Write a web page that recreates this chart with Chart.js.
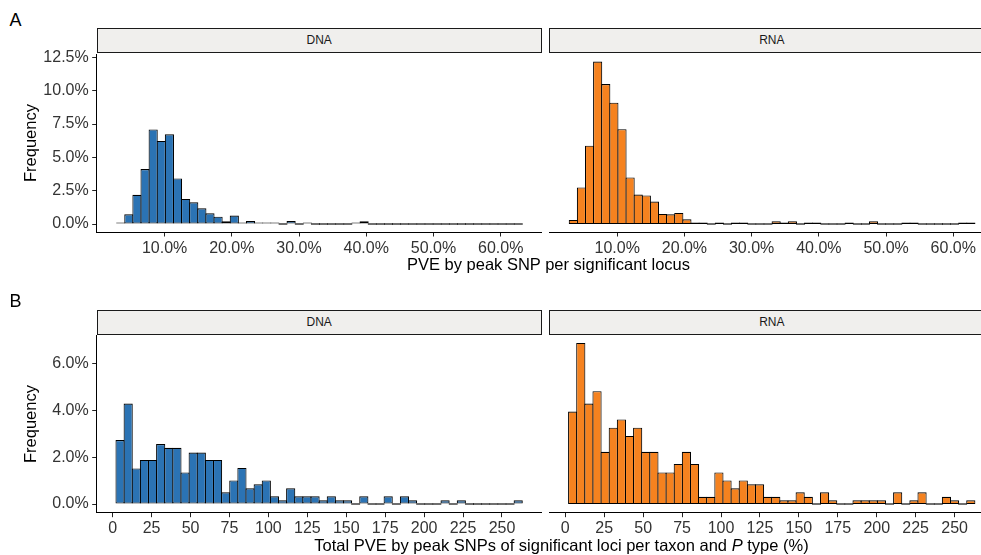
<!DOCTYPE html>
<html>
<head>
<meta charset="utf-8">
<script src="https://cdn.jsdelivr.net/npm/chart.js@4.4.1/dist/chart.umd.min.js"></script>
<style>
  html, body { margin: 0; padding: 0; background: #fff; overflow: hidden; }
  body { width: 981px; height: 555px; position: relative; font-family: "Liberation Sans", Arial, sans-serif; }
  canvas { position: absolute; }
  .strip { position: absolute; box-sizing: border-box; width: 445px; height: 25px; background: #f0efed;
           border: 1.3px solid #1a1a1a; font-size: 12px; color: #1a1a1a; text-align: center; line-height: 22px; }
  .txt { position: absolute; color: #000; white-space: nowrap; line-height: 1; }
  .ytitle { position: absolute; font-size: 16.5px; line-height: 16px; white-space: nowrap; transform: translate(-50%, -50%) rotate(-90deg); }
  .xtitle { position: absolute; font-size: 16.5px; line-height: 16px; white-space: nowrap; transform: translateX(-50%); }
</style>
</head>
<body>
<canvas id="dnaPeak" width="545" height="230" style="left:0;top:30px"></canvas>
<canvas id="rnaPeak" width="450" height="230" style="left:549px;top:30px"></canvas>
<canvas id="dnaTotal" width="545" height="231" style="left:0;top:310px"></canvas>
<canvas id="rnaTotal" width="450" height="231" style="left:549px;top:310px"></canvas>

<div class="strip" style="left:96.7px;top:28.3px">DNA</div>
<div class="strip" style="left:549.3px;top:28.3px">RNA</div>
<div class="strip" style="left:96.7px;top:309.7px">DNA</div>
<div class="strip" style="left:549.3px;top:309.7px">RNA</div>

<div class="txt" style="left:9.5px;top:11px;font-size:18px">A</div>
<div class="txt" style="left:9.5px;top:292px;font-size:18px">B</div>
<div class="ytitle" style="left:29.5px;top:143px">Frequency</div>
<div class="ytitle" style="left:29.5px;top:424px">Frequency</div>
<div class="xtitle" style="left:548.5px;top:256px">PVE by peak SNP per significant locus</div>
<div class="xtitle" style="left:561.5px;top:536.7px">Total PVE by peak SNPs of significant loci per taxon and <i>P</i> type (%)</div>

<script>
// histogram bins: 50 bins per panel row, shared between DNA and RNA facets
const peakBinStart = 2.87;   // % PVE, left edge of the first bin
const peakBinWidth = 1.207;
const totalBinStart = 2.12;
const totalBinWidth = 5.218;

// frequency (%) per bin
const dnaPeakFreq = [0.06, 0.73, 2.19, 4.12, 7.09, 6.23, 6.73, 3.42, 1.88, 1.63,
                     1.18, 0.80, 0.55, 0.20, 0.63, 0.10, 0.23, 0.08, 0.12, 0.12,
                     0, 0.23, 0, 0.12, 0, 0, 0, 0, 0, 0.10,
                     0.20, 0, 0, 0, 0, 0, 0, 0, 0, 0,
                     0, 0, 0, 0, 0, 0, 0, 0, 0, 0];
const rnaPeakFreq = [0.30, 2.74, 5.88, 12.19, 10.50, 9.10, 7.11, 3.49, 2.21, 2.14,
                     1.68, 0.75, 0.73, 0.83, 0.35, 0.10, 0.10, 0, 0.12, 0,
                     0.08, 0.10, 0, 0, 0, 0.20, 0.10, 0.20, 0, 0.10,
                     0.10, 0, 0, 0, 0.10, 0, 0, 0.20, 0, 0,
                     0, 0.10, 0.10, 0, 0, 0, 0, 0, 0.10, 0.10];
const dnaTotalFreq = [2.73, 4.29, 1.52, 1.88, 1.88, 2.56, 2.40, 2.40, 1.35, 2.20,
                      2.20, 1.88, 1.88, 0.50, 1.01, 1.54, 0.67, 0.84, 1.01, 0.33,
                      0.16, 0.67, 0.33, 0.33, 0.33, 0.16, 0.33, 0.16, 0.16, 0,
                      0.33, 0, 0, 0.33, 0, 0.33, 0.16, 0, 0, 0,
                      0.16, 0, 0.16, 0, 0, 0, 0, 0, 0, 0.16];
const rnaTotalFreq = [3.95, 6.88, 4.29, 4.82, 2.23, 3.26, 3.61, 2.91, 3.26, 2.23,
                      2.23, 1.35, 1.35, 1.71, 2.23, 1.71, 0.31, 0.31, 1.35, 1.01,
                      0.67, 1.01, 0.84, 0.84, 0.31, 0.31, 0.16, 0.16, 0.50, 0.31,
                      0, 0.50, 0.16, 0, 0, 0.16, 0.16, 0.16, 0.16, 0,
                      0.50, 0, 0.16, 0.50, 0, 0, 0.31, 0.16, 0, 0.16];

// tick labels
const peakXTicks = [10, 20, 30, 40, 50, 60];
const peakYTicks = [0, 2.5, 5, 7.5, 10, 12.5];
const totalXTicks = [0, 25, 50, 75, 100, 125, 150, 175, 200, 225, 250];
const totalYTicks = [0, 2, 4, 6];

const DNA_COLOR = '#2b73b4';
const RNA_COLOR = '#f5821f';
const FONT = 'Liberation Sans';

function pct(v) { return v.toFixed(1) + '%'; }

function makeHist(id, freq, color, bins, x, y, showY, pad) {
  const points = freq.map((v, i) => ({ x: bins.start + bins.width * (i + 0.5), y: v }));
  return new Chart(document.getElementById(id), {
    type: 'bar',
    data: {
      datasets: [{
        data: points,
        backgroundColor: color,
        borderColor: '#000',
        borderWidth: 1.1,
        borderSkipped: false,
        minBarLength: 1.5,
        barPercentage: 1.13,
        categoryPercentage: 1
      }]
    },
    options: {
      responsive: false,
      animation: false,
      events: [],
      layout: { padding: pad },
      plugins: { legend: { display: false }, tooltip: { enabled: false } },
      scales: {
        x: {
          type: 'linear',
          min: x.min, max: x.max,
          offset: false,
          afterBuildTicks: s => { s.ticks = x.ticks.map(v => ({ value: v })); },
          afterFit: s => { s.height = x.height; },
          grid: { drawOnChartArea: false, drawTicks: true, tickLength: 4.5, color: '#222', offset: false },
          border: { display: true, color: '#000', width: 1 },
          ticks: { color: '#333', font: { family: FONT, size: 16 }, padding: 2,
                   maxRotation: 0, autoSkip: false, callback: x.fmt }
        },
        y: {
          display: showY,
          min: y.min, max: y.max,
          afterBuildTicks: s => { s.ticks = y.ticks.map(v => ({ value: v })); },
          afterFit: s => { s.width = showY ? 96.7 : 0; },
          grid: { drawOnChartArea: false, drawTicks: true, tickLength: 4.5, color: '#222' },
          border: { display: true, color: '#000', width: 1 },
          ticks: { color: '#333', font: { family: FONT, size: 16 }, padding: 3.5, callback: pct }
        }
      }
    }
  });
}

const peakBins = { start: peakBinStart, width: peakBinWidth };
const totalBins = { start: totalBinStart, width: totalBinWidth };
const peakX = { min: -0.1, max: 66.1, ticks: peakXTicks, fmt: pct, height: 28 };
const peakY = { min: -0.6, max: 12.72, ticks: peakYTicks };
const totalX = { min: -10.27, max: 275.5, ticks: totalXTicks, fmt: v => String(v), height: 28.3 };
const totalY = { min: -0.37, max: 7.22, ticks: totalYTicks };

makeHist('dnaPeak', dnaPeakFreq, DNA_COLOR, peakBins, peakX, peakY, true, { top: 24.5, right: 3.3, left: 0, bottom: 0 });
makeHist('rnaPeak', rnaPeakFreq, RNA_COLOR, peakBins, peakX, peakY, false, { top: 24.5, right: 4.7, left: 0.3, bottom: 0 });
makeHist('dnaTotal', dnaTotalFreq, DNA_COLOR, totalBins, totalX, totalY, true, { top: 25, right: 3.3, left: 0, bottom: 0 });
makeHist('rnaTotal', rnaTotalFreq, RNA_COLOR, totalBins, totalX, totalY, false, { top: 25, right: 4.7, left: 0.3, bottom: 0 });
</script>
</body>
</html>
